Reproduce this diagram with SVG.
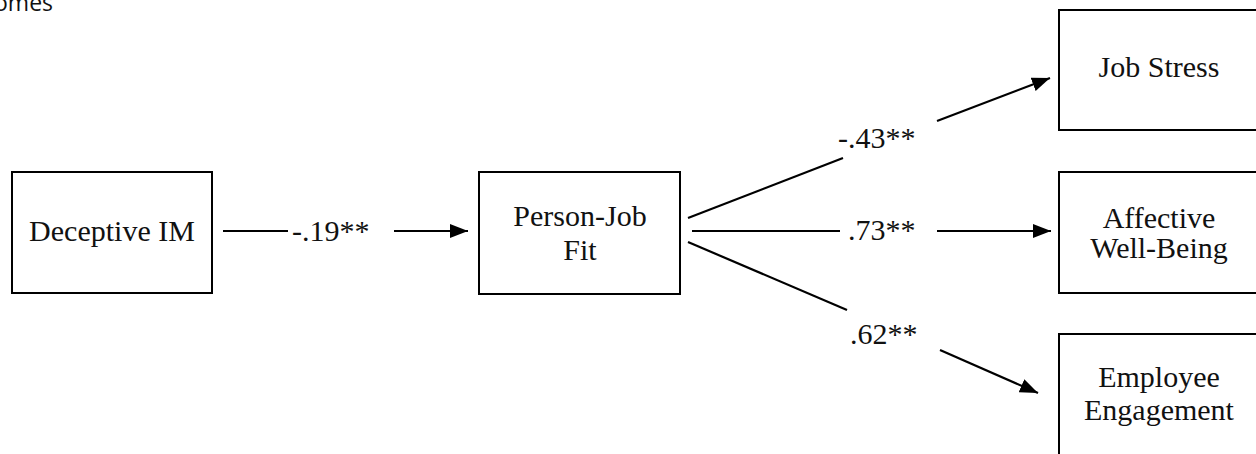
<svg xmlns="http://www.w3.org/2000/svg" width="1256" height="454" viewBox="0 0 1256 454">
<defs>
<style>
.box{fill:#fff;stroke:#000;stroke-width:2}
.t{font-family:"Liberation Serif","Times New Roman",serif;font-size:30px;fill:#111;text-anchor:middle}
.lbl{font-family:"Liberation Serif","Times New Roman",serif;font-size:30px;fill:#111}
.ln{stroke:#000;stroke-width:2.2;fill:none}
</style>
<marker id="arr" markerUnits="userSpaceOnUse" markerWidth="20" markerHeight="16" viewBox="0 0 20 16" refX="18" refY="8" orient="auto">
<path d="M0,1 L18,8 L0,15 Z" fill="#000"/>
</marker>
</defs>
<rect width="1256" height="454" fill="#fff"/>
<text x="-6" y="11" font-family="'Open Sans',sans-serif" font-size="23" fill="#111">omes</text>
<g id="connectors">
<line class="ln" x1="223" y1="231" x2="288" y2="231"/>
<line class="ln" x1="394" y1="231" x2="468" y2="231" marker-end="url(#arr)"/>
<line class="ln" x1="688" y1="218" x2="843" y2="158"/>
<line class="ln" x1="937" y1="121" x2="1050" y2="78" marker-end="url(#arr)"/>
<line class="ln" x1="692" y1="231" x2="840" y2="231"/>
<line class="ln" x1="937" y1="231" x2="1051" y2="231" marker-end="url(#arr)"/>
<line class="ln" x1="688" y1="242" x2="847" y2="310"/>
<line class="ln" x1="940" y1="350" x2="1038" y2="393" marker-end="url(#arr)"/>
<text class="lbl" x="292" y="241">-.19**</text>
<text class="lbl" x="838" y="148">-.43**</text>
<text class="lbl" x="848" y="240">.73**</text>
<text class="lbl" x="850" y="344">.62**</text>
</g>
<g id="deceptive-im">
<rect class="box" x="12" y="172" width="200" height="121"/>
<text class="t" x="112" y="241">Deceptive IM</text>
</g>
<g id="person-job-fit">
<rect class="box" x="479" y="172" width="201" height="122"/>
<text class="t" x="580" y="226">Person-Job</text>
<text class="t" x="580" y="260">Fit</text>
</g>
<g id="job-stress">
<rect class="box" x="1059" y="10" width="200" height="120"/>
<text class="t" x="1159" y="77">Job Stress</text>
</g>
<g id="affective-well-being">
<rect class="box" x="1059" y="172" width="200" height="121"/>
<text class="t" x="1159" y="228">Affective</text>
<text class="t" x="1159" y="258">Well-Being</text>
</g>
<g id="employee-engagement">
<rect class="box" x="1059" y="334" width="200" height="130"/>
<text class="t" x="1159" y="387">Employee</text>
<text class="t" x="1159" y="420">Engagement</text>
</g>
</svg>
